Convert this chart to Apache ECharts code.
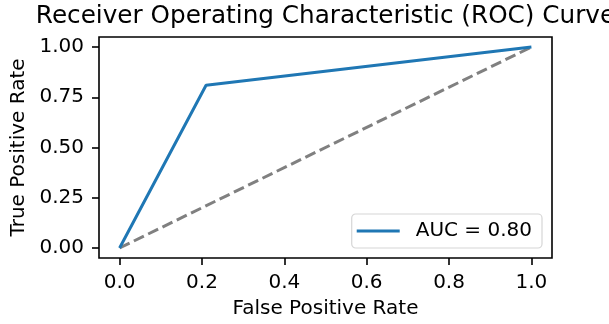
<!DOCTYPE html>
<html>
<head>
<meta charset="utf-8">
<script src="https://cdn.jsdelivr.net/npm/echarts@6/dist/echarts.min.js"></script>
<style>html,body{margin:0;padding:0;background:#fff}#c{width:609px;height:324px}</style>
</head>
<body>
<div id="c"></div>
<script>
var fpr = [0, 0.21, 1];
var tpr = [0, 0.81, 1];
var chanceX = [0, 1];
var chanceY = [0, 1];
var xTicks = [0, 0.2, 0.4, 0.6, 0.8, 1.0];
var yTicks = [0, 0.25, 0.5, 0.75, 1.0];
var rocLabel = 'AUC = 0.80';
var titleText = 'Receiver Operating Characteristic (ROC) Curve';
var xName = 'False Positive Rate';
var yName = 'True Positive Rate';

var FONT = 'DejaVu Sans';
var chart = echarts.init(document.getElementById('c'), null, {renderer: 'canvas'});
chart.setOption({
  animation: false,
  backgroundColor: '#fff',
  textStyle: {fontFamily: FONT},
  title: {
    text: titleText,
    left: 325.5,
    textAlign: 'center',
    top: 4,
    padding: 0,
    textStyle: {fontFamily: FONT, fontSize: 24.7, fontWeight: 'normal', color: '#000'}
  },
  grid: {
    left: 99, right: 57, top: 37, bottom: 65,
    show: true, borderColor: '#000', borderWidth: 1.6, backgroundColor: '#fff'
  },
  legend: {
    data: [{name: rocLabel, icon: 'rect'}],
    right: 67, bottom: 76,
    orient: 'vertical',
    itemWidth: 43, itemHeight: 3, itemGap: 0,
    padding: [7, 10, 7, 5],
    backgroundColor: 'rgba(255,255,255,0.8)',
    borderColor: '#d6d6d6', borderWidth: 1.2, borderRadius: 4,
    textStyle: {fontFamily: FONT, fontSize: 20, color: '#000', padding: [0, 0, 0, 11]}
  },
  xAxis: {
    type: 'value', min: -0.05, max: 1.05,
    name: xName, nameLocation: 'middle', nameGap: 41,
    nameTextStyle: {fontFamily: FONT, fontSize: 20, color: '#000'},
    axisLine: {show: false, onZero: false},
    splitLine: {show: false},
    axisTick: {show: true, customValues: xTicks, length: 7, lineStyle: {color: '#000', width: 1.6}},
    axisLabel: {customValues: xTicks, margin: 15, fontFamily: FONT, fontSize: 20, color: '#000',
      formatter: function (v) { return v.toFixed(1); }}
  },
  yAxis: {
    type: 'value', min: -0.05, max: 1.05,
    name: yName, nameLocation: 'middle', nameGap: 70, nameRotate: 90,
    nameTextStyle: {fontFamily: FONT, fontSize: 20, color: '#000'},
    axisLine: {show: false, onZero: false},
    splitLine: {show: false},
    axisTick: {show: true, customValues: yTicks, length: 7, lineStyle: {color: '#000', width: 1.6}},
    axisLabel: {customValues: yTicks, margin: 15, fontFamily: FONT, fontSize: 20, color: '#000',
      formatter: function (v) { return v.toFixed(2); }}
  },
  series: [
    {
      name: 'chance', type: 'line', symbol: 'none',
      data: chanceX.map(function (x, i) { return [x, chanceY[i]]; }),
      lineStyle: {color: '#808080', width: 3, type: [11.1, 4.8]},
      z: 2
    },
    {
      name: rocLabel, type: 'line', symbol: 'none',
      data: fpr.map(function (x, i) { return [x, tpr[i]]; }),
      lineStyle: {color: '#1f77b4', width: 3},
      itemStyle: {color: '#1f77b4'},
      z: 3
    }
  ]
});
</script>
</body>
</html>
